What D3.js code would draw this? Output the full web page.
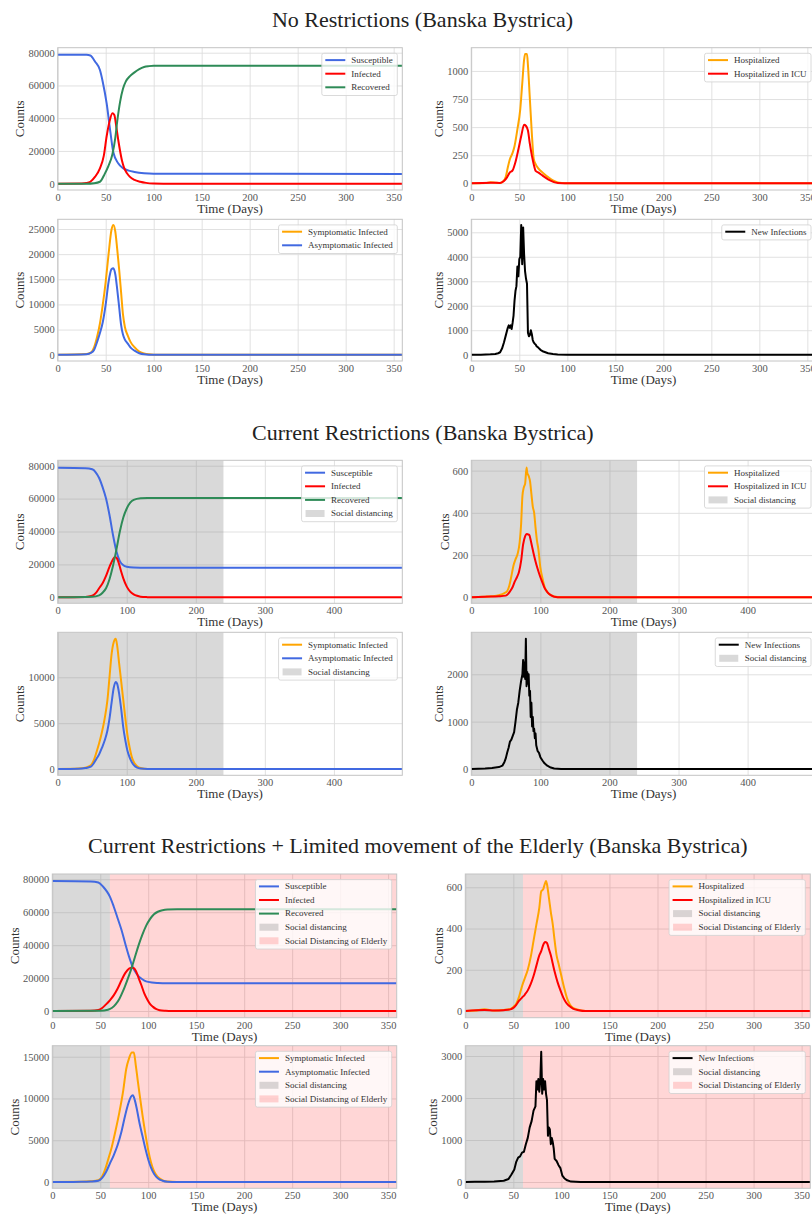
<!DOCTYPE html>
<html>
<head>
<meta charset="utf-8">
<script src="https://cdn.jsdelivr.net/npm/d3@7"></script>
<style>
  body { margin: 0; background: #fff; }
  svg { display: block; }
</style>
</head>
<body>
<script>
// ---------------- data (day, count) ----------------

// No restrictions
const noSusceptible = [[0,78800],[30,78700],[34,78300],[39,74500],[44,69400],[47,62000],[51,49000],[55,31000],[58,19000],[63,12500],[68,9500],[74,8000],[80,7200],[90,6400],[100,6100],[359,6000]];
const noInfected = [[0,0],[25,100],[30,400],[34,1200],[39,4300],[44,9400],[48,17000],[51,29000],[54,38000],[57,43000],[59,42000],[61,35000],[63,27000],[65,20000],[67,14000],[69,10000],[72,6500],[75,4300],[80,2300],[86,1200],[92,500],[100,100],[110,0],[359,0]];
const noRecovered = [[0,0],[30,0],[38,300],[44,1200],[49,6000],[53,11000],[57,18000],[60,28000],[62,38000],[65,50000],[68,58000],[71,62500],[75,65500],[80,68000],[85,70000],[90,71300],[95,71800],[100,72000],[359,72000]];
const noHospitalized = [[0,0],[15,3],[20,8],[25,5],[30,2],[33,15],[36,60],[38,140],[40,210],[43,270],[45,330],[48,480],[51,660],[53,880],[55,1100],[56,1150],[58,1150],[59,1050],[61,750],[63,450],[65,220],[67,170],[70,130],[75,90],[80,55],[85,25],[90,8],[95,2],[100,0],[359,0]];
const noICU = [[0,0],[20,5],[30,3],[34,20],[37,50],[40,95],[43,115],[46,190],[49,300],[52,420],[55,520],[57,510],[59,470],[61,350],[63,250],[65,170],[67,110],[70,95],[74,70],[78,45],[82,25],[86,10],[90,3],[100,0],[359,0]];
const noSymptomatic = [[0,0],[30,150],[35,500],[38,1500],[41,3500],[44,6200],[47,10000],[50,14500],[53,20000],[56,24800],[58,25800],[60,24500],[62,21000],[64,17000],[66,12500],[68,8000],[70,5500],[73,3800],[76,2500],[80,1500],[85,600],[90,250],[95,80],[100,0],[359,0]];
const noAsymptomatic = [[0,0],[30,100],[35,400],[38,1000],[41,2500],[44,4300],[47,6500],[50,10000],[53,14500],[56,17000],[58,17200],[60,16000],[62,13000],[64,9500],[66,6000],[68,4000],[70,3000],[73,2200],[76,1400],[80,800],[85,300],[90,100],[100,0],[359,0]];
const noNewInfections = [[0,0],[10,3],[20,15],[25,30],[28,60],[30,100],[32,250],[34,500],[36,800],[38,1100],[39,1200],[40,1100],[41,1200],[42,1050],[43,1300],[44,1600],[45,2200],[46,2600],[47,2800],[48,3600],[49,3200],[50,3900],[51,4000],[52,5300],[53,3700],[54,5200],[55,4100],[56,3400],[57,3100],[58,2900],[59,900],[60,750],[61,800],[62,1000],[63,850],[64,600],[65,500],[66,450],[67,420],[68,350],[70,280],[72,200],[75,130],[80,60],[85,25],[90,10],[100,0],[359,0]];

// Current restrictions
const curSusceptible = [[0,78800],[40,78500],[50,77800],[55,76000],[60,72500],[65,67000],[70,60000],[75,50000],[80,38000],[85,28000],[90,22000],[95,19500],[100,18600],[110,18100],[120,18000],[499,17900]];
const curInfected = [[0,0],[40,200],[50,900],[55,2500],[60,5500],[65,8500],[70,13000],[75,18500],[80,23000],[83,24500],[86,23500],[89,20000],[92,15500],[95,11500],[100,6500],[105,3500],[110,1800],[115,900],[120,400],[130,100],[140,0],[499,0]];
const curRecovered = [[0,0],[50,300],[60,1200],[65,2800],[70,5500],[75,11000],[80,19000],[85,29000],[90,40000],[95,48500],[100,54000],[105,57500],[110,59200],[120,60200],[130,60400],[499,60400]];
const curHospitalized = [[0,0],[10,2],[20,3],[30,5],[40,10],[48,20],[52,30],[55,55],[58,100],[61,150],[64,180],[67,205],[70,260],[72,340],[74,480],[76,520],[78,540],[80,615],[81,590],[83,575],[85,550],[87,490],[89,430],[91,400],[93,330],[95,270],[97,230],[100,140],[103,90],[106,50],[110,25],[115,10],[120,4],[130,0],[499,0]];
const curICU = [[0,0],[20,3],[40,5],[50,8],[53,15],[56,28],[60,50],[63,75],[66,95],[69,120],[72,170],[75,250],[78,290],[80,300],[82,298],[84,295],[86,270],[88,240],[90,210],[93,170],[96,135],[100,95],[103,70],[106,45],[110,25],[115,10],[120,3],[130,0],[499,0]];
const curSymptomatic = [[0,0],[30,50],[40,150],[48,400],[52,900],[56,1800],[60,2800],[64,4000],[68,5500],[72,7500],[75,10000],[78,12500],[81,13800],[84,14200],[86,13500],[89,11500],[92,9500],[95,7500],[98,5500],[101,3700],[104,2400],[107,1400],[110,800],[115,300],[120,100],[130,0],[499,0]];
const curAsymptomatic = [[0,0],[30,30],[40,100],[48,250],[52,600],[56,1100],[60,1600],[64,2300],[68,3100],[72,4200],[75,5500],[78,7200],[81,8800],[84,9500],[86,9300],[89,8200],[92,6500],[95,4500],[98,3100],[101,2000],[104,1300],[107,800],[110,450],[115,150],[120,50],[130,0],[499,0]];
const curNewInfections = [[0,0],[10,5],[20,10],[30,20],[40,40],[45,70],[48,150],[50,230],[52,350],[54,450],[56,580],[58,620],[60,700],[62,780],[64,1000],[66,1250],[68,1400],[70,1650],[72,1850],[74,2000],[75,2300],[76,1950],[77,2250],[78,1900],[79,2750],[80,1750],[81,2050],[82,1800],[83,2000],[84,1550],[85,1650],[86,1100],[87,1400],[88,900],[89,1100],[90,800],[91,850],[92,650],[93,750],[94,500],[96,380],[98,340],[100,250],[103,180],[106,120],[110,70],[115,30],[120,10],[130,0],[499,0]];

// Current restrictions + limited movement of the elderly
const eldSusceptible = [[0,78900],[40,78600],[48,78000],[53,75500],[57,72500],[60,69500],[64,63500],[68,56500],[72,49500],[76,41000],[80,33000],[84,26500],[88,22500],[92,20000],[96,18500],[100,17700],[110,17000],[120,16800],[359,16800]];
const eldInfected = [[0,0],[40,200],[48,600],[52,1800],[56,4000],[60,6500],[64,9500],[68,13500],[72,18500],[76,23000],[80,25800],[83,26300],[85,26000],[87,24500],[90,20000],[93,15500],[96,10500],[99,7000],[102,4200],[105,2500],[108,1300],[112,500],[118,150],[125,0],[359,0]];
const eldRecovered = [[0,0],[50,200],[58,800],[62,1800],[66,4000],[70,7500],[74,12500],[78,18500],[82,25000],[86,32500],[90,40000],[94,46500],[98,52000],[102,56000],[106,58800],[110,60300],[115,61200],[120,61600],[130,61800],[359,61800]];
const eldHospitalized = [[0,0],[10,2],[20,8],[30,3],[40,5],[46,8],[50,20],[53,35],[56,70],[59,120],[62,160],[65,200],[68,260],[71,340],[74,420],[77,500],[79,580],[81,590],[83,620],[84,630],[85,615],[87,550],[89,480],[91,420],[93,340],[95,270],[97,230],[100,170],[103,110],[106,60],[109,30],[112,15],[116,8],[120,3],[130,0],[359,0]];
const eldICU = [[0,0],[20,5],[30,2],[40,4],[47,8],[50,15],[53,30],[56,50],[59,65],[62,80],[65,100],[68,130],[71,170],[74,220],[77,270],[79,290],[81,320],[83,335],[85,330],[87,300],[89,270],[91,230],[93,190],[96,140],[99,100],[102,65],[105,40],[108,25],[112,12],[118,4],[125,0],[359,0]];
const eldSymptomatic = [[0,0],[30,30],[40,80],[48,200],[52,700],[55,1500],[58,2600],[62,4200],[66,6200],[70,8400],[74,11000],[77,13500],[80,14800],[83,15500],[85,15500],[87,14000],[89,12200],[91,10500],[94,8000],[97,5800],[100,3800],[103,2300],[106,1300],[110,600],[115,200],[120,50],[130,0],[359,0]];
const eldAsymptomatic = [[0,0],[30,20],[40,60],[48,150],[52,500],[56,1200],[60,2200],[64,3200],[68,4400],[72,6000],[76,8000],[79,9300],[82,10200],[84,10400],[86,9800],[88,8800],[91,7000],[94,5500],[97,4000],[100,2700],[103,1700],[106,1000],[110,450],[115,150],[120,40],[130,0],[359,0]];
const eldNewInfections = [[0,0],[10,3],[20,5],[30,10],[40,30],[45,70],[48,180],[51,300],[53,480],[55,580],[57,610],[59,700],[61,720],[63,900],[65,1050],[67,1300],[69,1450],[71,1700],[73,1800],[74,2400],[75,2200],[76,2450],[77,2150],[78,2400],[79,3100],[80,2100],[81,2450],[82,2200],[83,2400],[84,2100],[85,1950],[86,1100],[87,1300],[88,1250],[89,900],[90,1050],[91,950],[92,800],[93,550],[95,500],[97,400],[99,330],[101,150],[103,90],[106,40],[110,10],[120,0],[359,0]];

// interventions (day ranges)
const socialDistancingCur = [0, 240];
const socialDistancingEld = [0, 60];
const elderlyDistancingEld = [60, 359];

// tick values
const ticks360 = [0, 50, 100, 150, 200, 250, 300, 350];
const ticks500 = [0, 100, 200, 300, 400];
const titles = [
  "No Restrictions (Banska Bystrica)",
  "Current Restrictions (Banska Bystrica)",
  "Current Restrictions + Limited movement of the Elderly (Banska Bystrica)"
];

// ---------------- style ----------------
const FONT = '"Liberation Serif", "DejaVu Serif", serif';
const C = {
  blue: "#4169e1", red: "#ff0000", green: "#2e8b57", orange: "#ffa500", black: "#000000",
  gray: "rgba(128,128,128,0.3)", pink: "rgba(255,0,0,0.16)"
};

const svg = d3.select("body").append("svg")
  .attr("width", 812)
  .attr("height", 1217)
  .attr("font-family", FONT);

let clipCount = 0;

function drawPanel(p) {
  let x = d3.scaleLinear().domain([0, p.xMax]).range([p.left, p.right]);
  let y = d3.scaleLinear().domain(p.yDomain).range([p.bottom, p.top]);
  let h = p.bottom - p.top, w = p.right - p.left;

  let clipId = "clip" + (clipCount++);
  svg.append("clipPath").attr("id", clipId)
    .append("rect").attr("x", p.left).attr("y", p.top).attr("width", w).attr("height", h);

  // x axis: grid + labels
  let gx = svg.append("g")
    .attr("transform", `translate(0,${p.bottom})`)
    .call(d3.axisBottom(x).tickValues(p.xTicks).tickSize(-h).tickPadding(3.5).tickFormat(d3.format("d")));
  // y axis: grid + labels
  let gy = svg.append("g")
    .attr("transform", `translate(${p.left},0)`)
    .call(d3.axisLeft(y).tickValues(p.yTicks).tickSize(-w).tickPadding(3).tickFormat(d3.format("d")));
  for (let g of [gx, gy]) {
    g.select(".domain").remove();
    g.selectAll(".tick line").attr("stroke", "#dedede").attr("stroke-width", 0.9);
    g.selectAll(".tick text").attr("fill", "#555").attr("font-size", 10.5).attr("font-family", FONT);
  }

  // shaded intervention periods
  let plot = svg.append("g").attr("clip-path", `url(#${clipId})`);
  p.bands.forEach(b => {
    plot.append("rect")
      .attr("x", x(b.range[0])).attr("y", p.top)
      .attr("width", x(b.range[1]) - x(b.range[0])).attr("height", h)
      .attr("fill", b.color);
  });

  // series
  p.series.forEach(s => {
    let line = d3.line()
      .curve(s.jagged ? d3.curveLinear : d3.curveMonotoneX)
      .x(d => x(d[0]))
      .y(d => y(d[1]));
    plot.append("path")
      .datum(s.data)
      .attr("fill", "none")
      .attr("stroke", s.color)
      .attr("stroke-width", 2)
      .attr("stroke-linejoin", "round")
      .attr("d", line);
  });

  // frame
  svg.append("rect")
    .attr("x", p.left).attr("y", p.top).attr("width", w).attr("height", h)
    .attr("fill", "none").attr("stroke", "#c4c4c4").attr("stroke-width", 1);

  // axis labels
  svg.append("text")
    .attr("x", (p.left + p.right) / 2).attr("y", p.bottom + 23)
    .attr("text-anchor", "middle").attr("font-size", 13).attr("fill", "#333")
    .text("Time (Days)");
  let tickLeft = d3.min(gy.selectAll(".tick text").nodes(), n => n.getBBox().x) + p.left;
  svg.append("text")
    .attr("transform", `translate(${tickLeft - 4},${(p.top + p.bottom) / 2}) rotate(-90)`)
    .attr("text-anchor", "middle").attr("font-size", 13).attr("fill", "#333")
    .text("Counts");

  // legend
  let entries = p.series.map(s => ({ label: s.label, color: s.color, patch: false }))
    .concat(p.bands.map(b => ({ label: b.label, color: b.color, patch: true })));
  let lg = svg.append("g");
  let box = lg.append("rect");
  let texts = [];
  let top = p.top + 5.6;
  entries.forEach((e, i) => {
    let cy = top + 6.8 + i * 13.6;
    texts.push(lg.append("text").attr("y", cy).attr("dy", "0.32em")
      .attr("font-size", 9).attr("fill", "#333").text(e.label));
  });
  let maxW = d3.max(texts, t => t.node().getComputedTextLength());
  let bw = 29.5 + maxW + 4.5;
  let bx = p.right - 5 - bw;
  box.attr("x", bx).attr("y", top).attr("width", bw).attr("height", 15 + (entries.length - 1) * 13.6)
    .attr("rx", 2).attr("fill", "rgba(255,255,255,0.8)").attr("stroke", "#d0d0d0").attr("stroke-width", 0.8);
  texts.forEach(t => t.attr("x", bx + 29.5));
  entries.forEach((e, i) => {
    let cy = top + 6.8 + i * 13.6;
    if (e.patch) {
      lg.append("rect").attr("x", bx + 4).attr("y", cy - 3.5).attr("width", 19).attr("height", 7).attr("fill", e.color);
    } else {
      lg.append("line").attr("x1", bx + 3.5).attr("x2", bx + 23.5).attr("y1", cy).attr("y2", cy)
        .attr("stroke", e.color).attr("stroke-width", 2);
    }
  });
}

// ---------------- figure layout ----------------
const sections = [
  { title: titles[0], titleX: 422.5, titleY: 27, cols: [[57.7, 402.3], [471.3, 816]], rows: [[47.7, 190], [219.3, 361]], xMax: 359, xTicks: ticks360,
    panels: [
      { yDomain: [-3847, 83053], yTicks: [0, 20000, 40000, 60000, 80000], bands: [],
        series: [{ data: noSusceptible, color: C.blue, label: "Susceptible" }, { data: noInfected, color: C.red, label: "Infected" }, { data: noRecovered, color: C.green, label: "Recovered" }] },
      { yDomain: [-60, 1207], yTicks: [0, 250, 500, 750, 1000], bands: [],
        series: [{ data: noHospitalized, color: C.orange, label: "Hospitalized" }, { data: noICU, color: C.red, label: "Hospitalized in ICU" }] },
      { yDomain: [-1253, 26929], yTicks: [0, 5000, 10000, 15000, 20000, 25000], bands: [],
        series: [{ data: noSymptomatic, color: C.orange, label: "Symptomatic Infected" }, { data: noAsymptomatic, color: C.blue, label: "Asymptomatic Infected" }] },
      { yDomain: [-257, 5531], yTicks: [0, 1000, 2000, 3000, 4000, 5000], bands: [],
        series: [{ data: noNewInfections, color: C.black, label: "New Infections", jagged: true }] }
    ] },
  { title: titles[1], titleX: 422.8, titleY: 440, cols: [[57.7, 402.3], [471.3, 816]], rows: [[460.3, 603.3], [632.3, 775.3]], xMax: 499, xTicks: ticks500,
    panels: [
      { yDomain: [-3647, 83283], yTicks: [0, 20000, 40000, 60000, 80000], bands: [{ range: socialDistancingCur, color: C.gray, label: "Social distancing" }],
        series: [{ data: curSusceptible, color: C.blue, label: "Susceptible" }, { data: curInfected, color: C.red, label: "Infected" }, { data: curRecovered, color: C.green, label: "Recovered" }] },
      { yDomain: [-28.4, 649], yTicks: [0, 200, 400, 600], bands: [{ range: socialDistancingCur, color: C.gray, label: "Social distancing" }],
        series: [{ data: curHospitalized, color: C.orange, label: "Hospitalized" }, { data: curICU, color: C.red, label: "Hospitalized in ICU" }] },
      { yDomain: [-687, 14907], yTicks: [0, 5000, 10000], bands: [{ range: socialDistancingCur, color: C.gray, label: "Social distancing" }],
        series: [{ data: curSymptomatic, color: C.orange, label: "Symptomatic Infected" }, { data: curAsymptomatic, color: C.blue, label: "Asymptomatic Infected" }] },
      { yDomain: [-133, 2887], yTicks: [0, 1000, 2000], bands: [{ range: socialDistancingCur, color: C.gray, label: "Social distancing" }],
        series: [{ data: curNewInfections, color: C.black, label: "New Infections", jagged: true }] }
    ] },
  { title: titles[2], titleX: 417.8, titleY: 853.3, cols: [[52.3, 396.7], [465.3, 810.3]], rows: [[874, 1017.7], [1045.7, 1188.3]], xMax: 359, xTicks: ticks360,
    panels: [
      { yDomain: [-4070, 83220], yTicks: [0, 20000, 40000, 60000, 80000],
        bands: [{ range: socialDistancingEld, color: C.gray, label: "Social distancing" }, { range: elderlyDistancingEld, color: C.pink, label: "Social Distancing of Elderly" }],
        series: [{ data: eldSusceptible, color: C.blue, label: "Susceptible" }, { data: eldInfected, color: C.red, label: "Infected" }, { data: eldRecovered, color: C.green, label: "Recovered" }] },
      { yDomain: [-32.5, 664.5], yTicks: [0, 200, 400, 600],
        bands: [{ range: socialDistancingEld, color: C.gray, label: "Social distancing" }, { range: elderlyDistancingEld, color: C.pink, label: "Social Distancing of Elderly" }],
        series: [{ data: eldHospitalized, color: C.orange, label: "Hospitalized" }, { data: eldICU, color: C.red, label: "Hospitalized in ICU" }] },
      { yDomain: [-754, 16317], yTicks: [0, 5000, 10000, 15000],
        bands: [{ range: socialDistancingEld, color: C.gray, label: "Social distancing" }, { range: elderlyDistancingEld, color: C.pink, label: "Social Distancing of Elderly" }],
        series: [{ data: eldSymptomatic, color: C.orange, label: "Symptomatic Infected" }, { data: eldAsymptomatic, color: C.blue, label: "Asymptomatic Infected" }] },
      { yDomain: [-150, 3245], yTicks: [0, 1000, 2000, 3000],
        bands: [{ range: socialDistancingEld, color: C.gray, label: "Social distancing" }, { range: elderlyDistancingEld, color: C.pink, label: "Social Distancing of Elderly" }],
        series: [{ data: eldNewInfections, color: C.black, label: "New Infections", jagged: true }] }
    ] }
];

sections.forEach(sec => {
  svg.append("text")
    .attr("x", sec.titleX).attr("y", sec.titleY)
    .attr("text-anchor", "middle").attr("font-size", 22).attr("fill", "#222")
    .text(sec.title);
  sec.panels.forEach((p, i) => {
    let col = sec.cols[i % 2], row = sec.rows[Math.floor(i / 2)];
    drawPanel(Object.assign({}, p, {
      left: col[0], right: col[1], top: row[0], bottom: row[1],
      xMax: sec.xMax, xTicks: sec.xTicks
    }));
  });
});
</script>
</body>
</html>
